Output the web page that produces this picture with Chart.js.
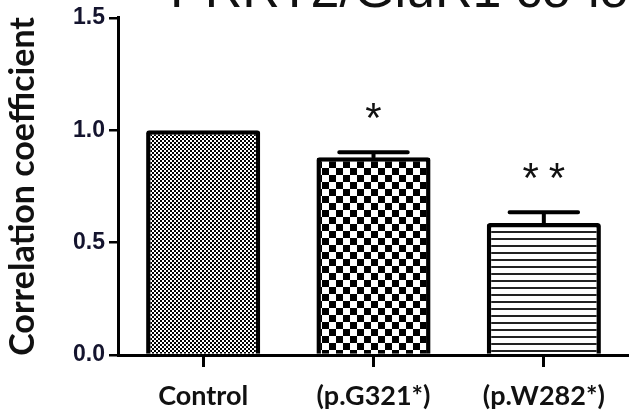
<!DOCTYPE html>
<html>
<head>
<meta charset="utf-8">
<script src="https://cdn.jsdelivr.net/npm/chart.js@4.4.0/dist/chart.umd.min.js"></script>
<style>
  html, body { margin: 0; padding: 0; background: #fff; overflow: hidden; }
  #wrap { position: relative; width: 629px; height: 419px; overflow: hidden; }
  #coloc-chart { position: absolute; left: 0; top: 0; }
  #plot-title {
    position: absolute; left: 170px; top: -37px;
    font: 52px/52px "Liberation Sans", Arial, sans-serif;
    color: #111; white-space: nowrap;
  }
</style>
</head>
<body>
<div id="wrap">
  <canvas id="coloc-chart" width="629" height="419"></canvas>
  <div id="plot-title">PRRT2/GluR1 co-localization</div>
</div>
<script>
// data
const groups = ['Control', '(p.G321*)', '(p.W282*)'];
const meanValues = [1.0, 0.88, 0.587];
const errorValues = [0, 0.022, 0.048];
const significance = ['', '*', '**'];
const yTicks = [0, 0.5, 1.0, 1.5];

const canvas = document.getElementById('coloc-chart');
const ctx = canvas.getContext('2d');

// fill patterns for the three bars
function makePattern(kind) {
  const tile = document.createElement('canvas');
  const t = tile.getContext('2d');
  if (kind === 'fine') {
    tile.width = tile.height = 4;
    t.fillStyle = '#fff'; t.fillRect(0, 0, 4, 4);
    t.fillStyle = '#000';
    t.fillRect(0, 0, 2, 2); t.fillRect(2, 2, 2, 2);
  } else if (kind === 'coarse') {
    tile.width = tile.height = 14;
    t.fillStyle = '#fff'; t.fillRect(0, 0, 14, 14);
    t.fillStyle = '#000';
    t.fillRect(0, 0, 7, 7); t.fillRect(7, 7, 7, 7);
  } else {
    tile.width = 4; tile.height = 7;
    t.fillStyle = '#fff'; t.fillRect(0, 0, 4, 7);
    t.fillStyle = '#222'; t.fillRect(0, 0, 4, 2);
  }
  return ctx.createPattern(tile, 'repeat');
}
const barFills = [makePattern('fine'), makePattern('coarse'), makePattern('stripes')];

// error bars and significance stars on top of the bars
const errorBarPlugin = {
  id: 'errorBars',
  afterDatasetsDraw(chart) {
    const c = chart.ctx;
    const y = chart.scales.y;
    const meta = chart.getDatasetMeta(0);
    c.save();
    c.strokeStyle = '#000';
    c.lineWidth = 4;
    c.lineCap = 'round';
    meta.data.forEach((bar, i) => {
      const top = y.getPixelForValue(meanValues[i] + errorValues[i]);
      if (errorValues[i] > 0) {
        const half = bar.width * 0.3;
        c.beginPath();
        c.moveTo(bar.x, bar.y);
        c.lineTo(bar.x, top);
        c.moveTo(bar.x - half, top);
        c.lineTo(bar.x + half, top);
        c.stroke();
      }
      if (significance[i]) {
        c.fillStyle = '#111';
        c.font = '42px "Liberation Sans", Arial, sans-serif';
        c.textAlign = 'center';
        c.textBaseline = 'alphabetic';
        c.letterSpacing = '10px';
        c.fillText(significance[i], bar.x + 5, top - 20);
      }
    });
    c.restore();
  }
};

new Chart(ctx, {
  type: 'bar',
  data: {
    labels: groups,
    datasets: [{
      data: meanValues,
      backgroundColor: barFills,
      borderColor: '#000',
      borderWidth: 4.5,
      borderRadius: 3,
      borderSkipped: 'bottom',
      categoryPercentage: 1,
      barPercentage: 0.67
    }]
  },
  options: {
    responsive: false,
    animation: false,
    layout: { padding: { top: 7, right: 0, bottom: 0, left: 0 } },
    plugins: {
      legend: { display: false },
      tooltip: { enabled: false }
    },
    scales: {
      x: {
        offset: true,
        grid: { offset: false, drawOnChartArea: false, drawTicks: true, tickLength: 12, color: '#000', lineWidth: 3 },
        border: { color: '#000', width: 3 },
        ticks: {
          color: '#111',
          padding: 13,
          font: { family: 'Lato, sans-serif', size: 27, weight: 'bold' }
        },
        afterFit: s => { s.height = 64; }
      },
      y: {
        min: 0,
        max: 1.5,
        afterBuildTicks: s => { s.ticks = yTicks.map(v => ({ value: v })); },
        grid: { drawOnChartArea: false, drawTicks: true, tickLength: 9, color: '#000', lineWidth: 2.5 },
        border: { color: '#000', width: 3 },
        ticks: {
          color: '#14142e',
          padding: 4,
          callback: v => v.toFixed(1),
          font: { family: '"Liberation Sans", Arial, sans-serif', size: 23, weight: 'bold' }
        },
        title: {
          display: true,
          text: 'Correlation coefficient',
          color: '#111',
          padding: { top: 3, bottom: 0 },
          font: { family: 'Lato, sans-serif', size: 34, weight: 'bold' }
        },
        afterFit: s => { s.width = 118; }
      }
    }
  },
  plugins: [errorBarPlugin]
});
</script>
</body>
</html>
